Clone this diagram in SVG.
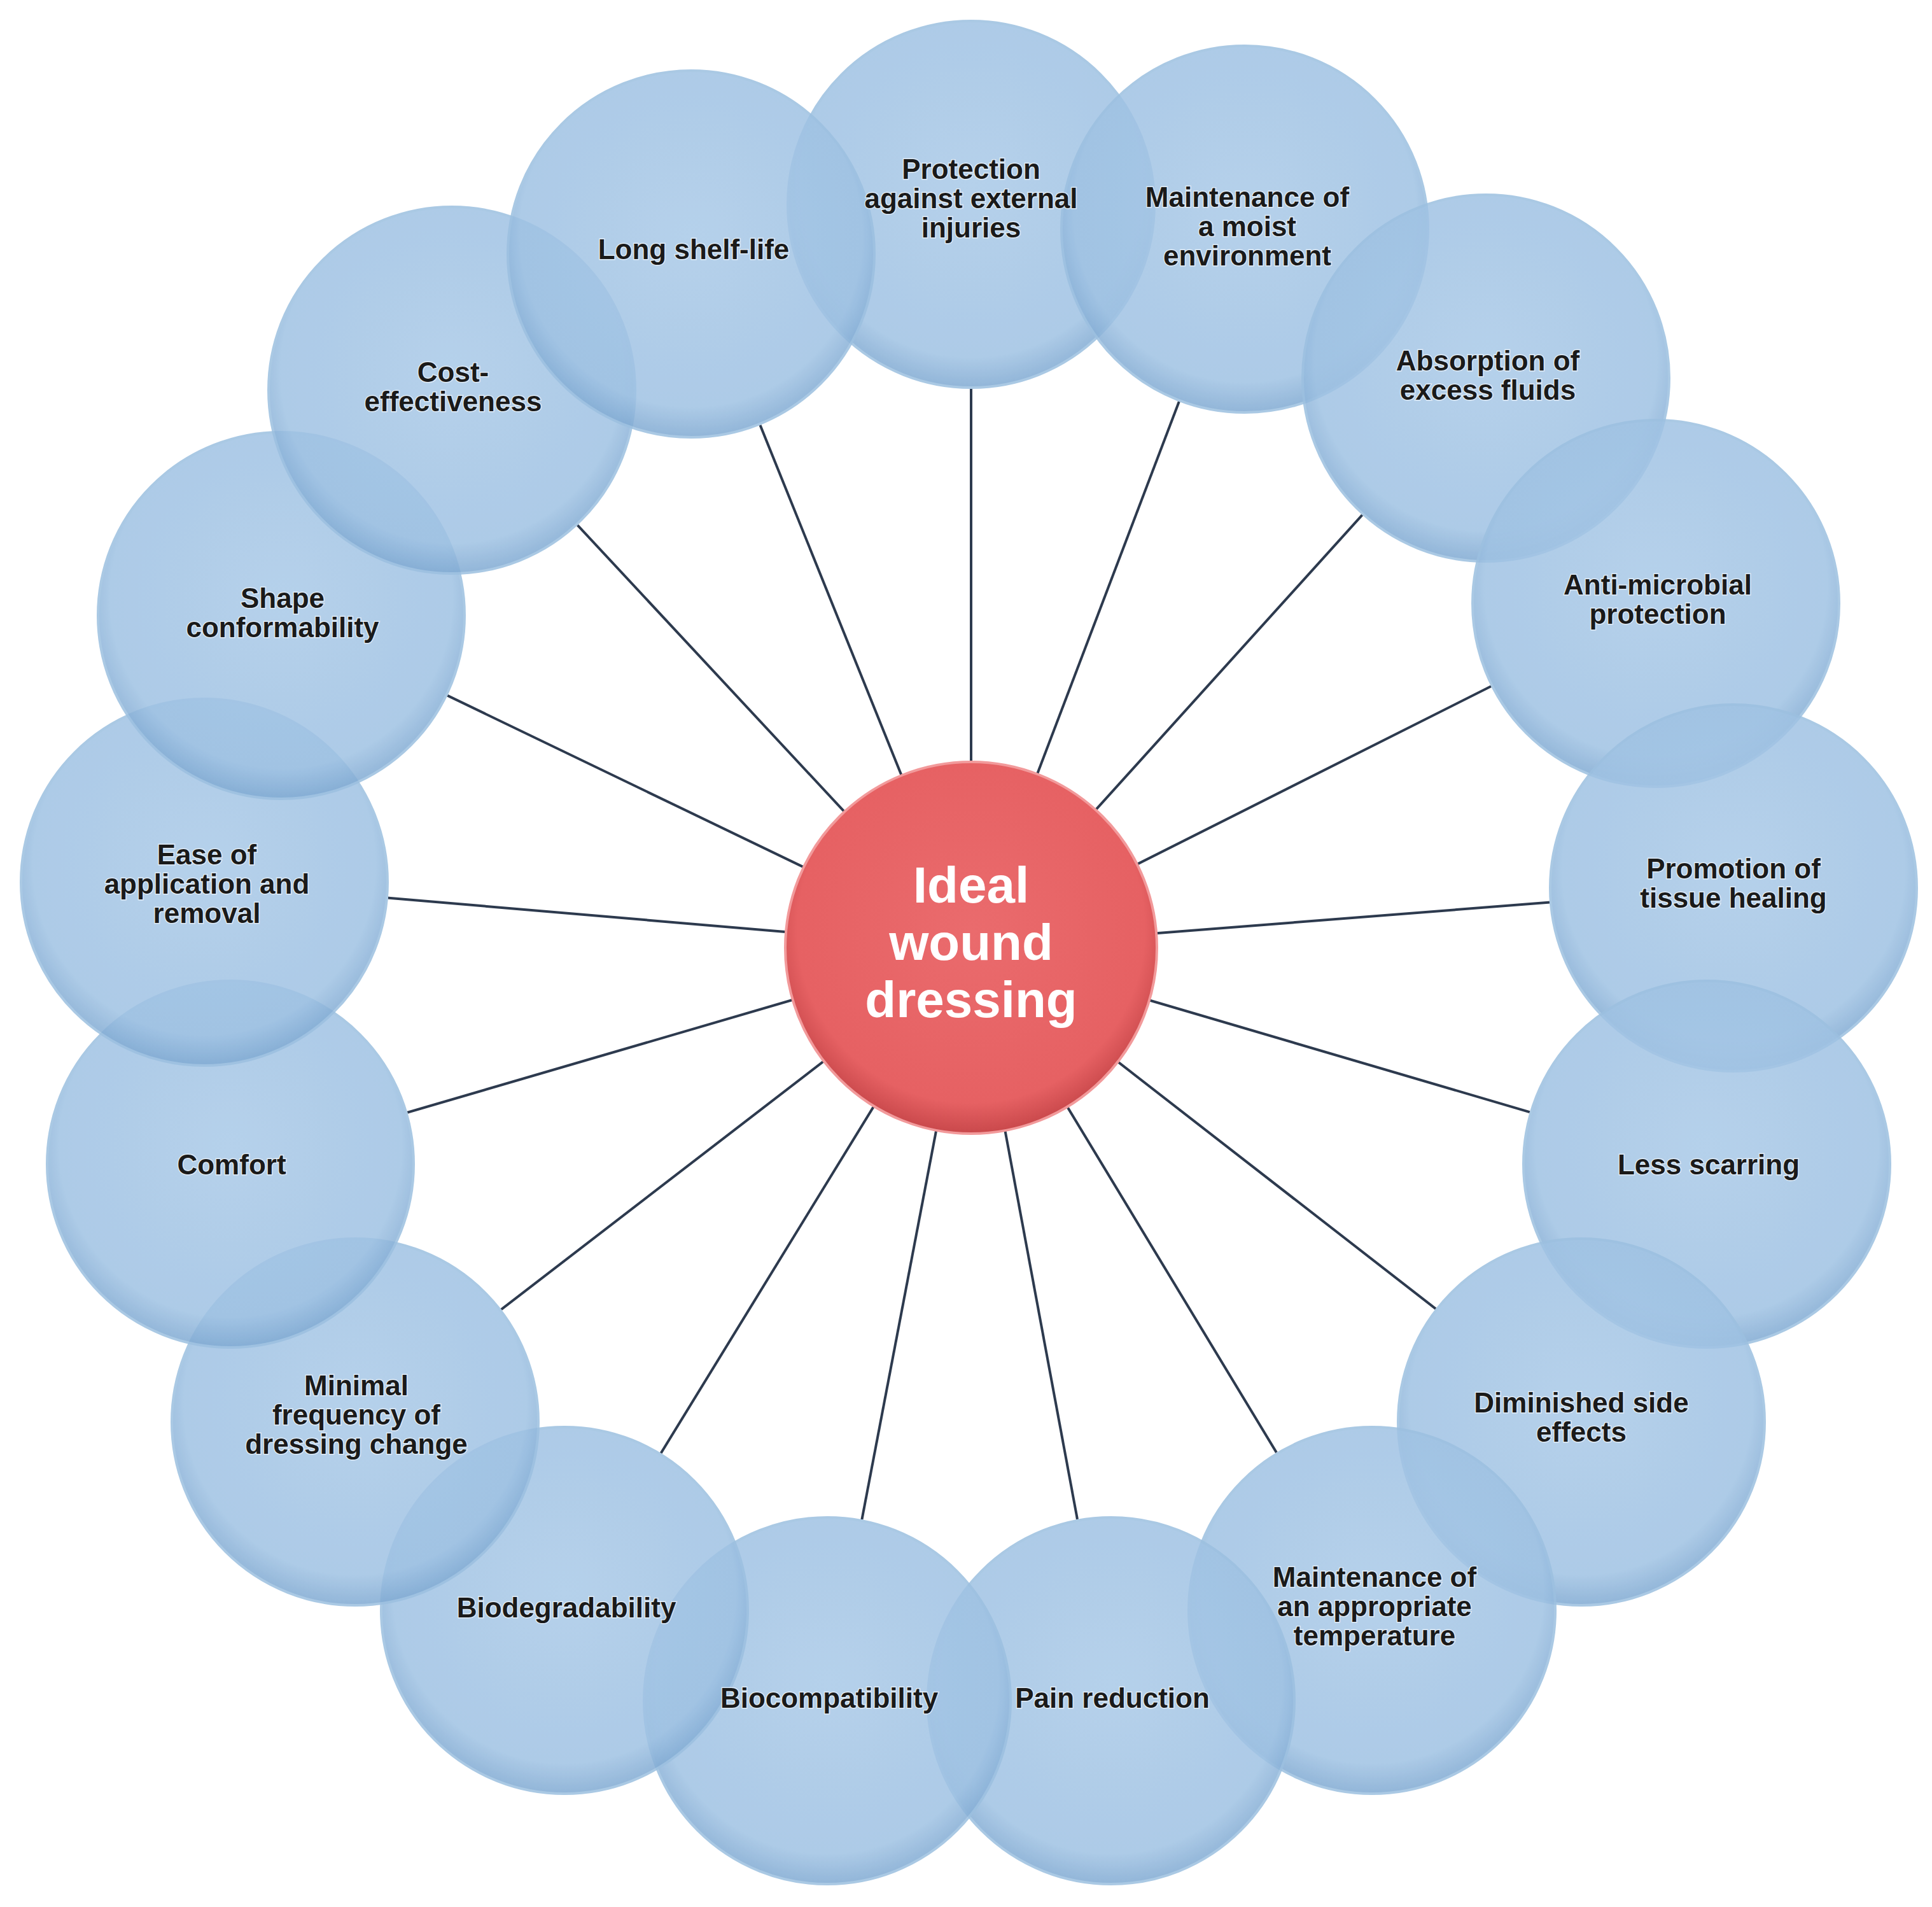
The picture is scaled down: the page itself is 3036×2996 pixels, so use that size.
<svg xmlns="http://www.w3.org/2000/svg" width="3036" height="2996" viewBox="0 0 3036 2996">
<style>
.c{fill:url(#bg);stroke:#9cc0e0;stroke-width:4;opacity:0.85}
.w{fill:#fff}
.t{font-family:"Liberation Sans",Arial,sans-serif;font-weight:bold;font-size:44px;fill:#1a1a1a;text-anchor:middle;stroke:#ffffff;stroke-width:3;paint-order:stroke;stroke-opacity:0.6}
.l{stroke:#2d3a4e;stroke-width:4}
</style>
<defs>
<radialGradient id="bg" cx="0.5" cy="0.45" r="0.55">
<stop offset="0" stop-color="#a9c9e8"/><stop offset="0.85" stop-color="#9fc2e3"/><stop offset="1" stop-color="#7fa9d2"/>
</radialGradient>
<radialGradient id="rg" cx="0.5" cy="0.45" r="0.55">
<stop offset="0" stop-color="#ea6b6d"/><stop offset="0.85" stop-color="#e66163"/><stop offset="1" stop-color="#c9484b"/>
</radialGradient>
</defs>
<rect width="3036" height="2996" fill="#fff"/>
<g id="connectors">
<line class="l" x1="1526" y1="1489" x2="1526" y2="321"/>
<line class="l" x1="1526" y1="1489" x2="1956" y2="360"/>
<line class="l" x1="1526" y1="1489" x2="2335" y2="594"/>
<line class="l" x1="1526" y1="1489" x2="2602" y2="948"/>
<line class="l" x1="1526" y1="1489" x2="2724" y2="1395"/>
<line class="l" x1="1526" y1="1489" x2="2682" y2="1829"/>
<line class="l" x1="1526" y1="1489" x2="2485" y2="2234"/>
<line class="l" x1="1526" y1="1489" x2="2156" y2="2530"/>
<line class="l" x1="1526" y1="1489" x2="1746" y2="2672"/>
<line class="l" x1="1526" y1="1489" x2="1300" y2="2672"/>
<line class="l" x1="1526" y1="1489" x2="887" y2="2530"/>
<line class="l" x1="1526" y1="1489" x2="558" y2="2234"/>
<line class="l" x1="1526" y1="1489" x2="362" y2="1829"/>
<line class="l" x1="1526" y1="1489" x2="321" y2="1386"/>
<line class="l" x1="1526" y1="1489" x2="442" y2="967"/>
<line class="l" x1="1526" y1="1489" x2="710" y2="613"/>
<line class="l" x1="1526" y1="1489" x2="1086" y2="399"/>
</g>
<g id="backing">
<circle class="w" cx="1526" cy="321" r="290"/><circle class="w" cx="1956" cy="360" r="290"/><circle class="w" cx="2335" cy="594" r="290"/><circle class="w" cx="2602" cy="948" r="290"/><circle class="w" cx="2724" cy="1395" r="290"/><circle class="w" cx="2682" cy="1829" r="290"/><circle class="w" cx="2485" cy="2234" r="290"/><circle class="w" cx="2156" cy="2530" r="290"/><circle class="w" cx="1746" cy="2672" r="290"/><circle class="w" cx="1300" cy="2672" r="290"/><circle class="w" cx="887" cy="2530" r="290"/><circle class="w" cx="558" cy="2234" r="290"/><circle class="w" cx="362" cy="1829" r="290"/><circle class="w" cx="321" cy="1386" r="290"/><circle class="w" cx="442" cy="967" r="290"/><circle class="w" cx="710" cy="613" r="290"/><circle class="w" cx="1086" cy="399" r="290"/>
</g>
<g id="n1"><circle class="c" cx="1526" cy="321" r="288"/></g>
<g id="n2"><circle class="c" cx="1956" cy="360" r="288"/></g>
<g id="n3"><circle class="c" cx="2335" cy="594" r="288"/></g>
<g id="n4"><circle class="c" cx="2602" cy="948" r="288"/></g>
<g id="n5"><circle class="c" cx="2724" cy="1395" r="288"/></g>
<g id="n6"><circle class="c" cx="2682" cy="1829" r="288"/></g>
<g id="n7"><circle class="c" cx="2485" cy="2234" r="288"/></g>
<g id="n8"><circle class="c" cx="2156" cy="2530" r="288"/></g>
<g id="n9"><circle class="c" cx="1746" cy="2672" r="288"/></g>
<g id="n10"><circle class="c" cx="1300" cy="2672" r="288"/></g>
<g id="n11"><circle class="c" cx="887" cy="2530" r="288"/></g>
<g id="n12"><circle class="c" cx="558" cy="2234" r="288"/></g>
<g id="n13"><circle class="c" cx="362" cy="1829" r="288"/></g>
<g id="n14"><circle class="c" cx="321" cy="1386" r="288"/></g>
<g id="n15"><circle class="c" cx="442" cy="967" r="288"/></g>
<g id="n16"><circle class="c" cx="710" cy="613" r="288"/></g>
<g id="n17"><circle class="c" cx="1086" cy="399" r="288"/></g>
<g id="center"><circle cx="1526" cy="1489" r="292" fill="url(#rg)" stroke="#f29a9b" stroke-width="4"/>
<text font-family="Liberation Sans,Arial,sans-serif" font-weight="bold" font-size="80" fill="#fff" text-anchor="middle"><tspan x="1526" y="1418">Ideal</tspan><tspan x="1526" y="1508">wound</tspan><tspan x="1526" y="1598">dressing</tspan></text></g>
<g id="labels">
<text class="t"><tspan x="1526" y="281">Protection</tspan><tspan x="1526" y="327">against external</tspan><tspan x="1526" y="373">injuries</tspan></text>
<text class="t"><tspan x="1960" y="325">Maintenance of</tspan><tspan x="1960" y="371">a moist</tspan><tspan x="1960" y="417">environment</tspan></text>
<text class="t"><tspan x="2338" y="582">Absorption of</tspan><tspan x="2338" y="628">excess fluids</tspan></text>
<text class="t"><tspan x="2605" y="934">Anti-microbial</tspan><tspan x="2605" y="980">protection</tspan></text>
<text class="t"><tspan x="2724" y="1380">Promotion of</tspan><tspan x="2724" y="1426">tissue healing</tspan></text>
<text class="t"><tspan x="2685" y="1845">Less scarring</tspan></text>
<text class="t"><tspan x="2485" y="2219">Diminished side</tspan><tspan x="2485" y="2265">effects</tspan></text>
<text class="t"><tspan x="2160" y="2493">Maintenance of</tspan><tspan x="2160" y="2539">an appropriate</tspan><tspan x="2160" y="2585">temperature</tspan></text>
<text class="t"><tspan x="1748" y="2683">Pain reduction</tspan></text>
<text class="t"><tspan x="1303" y="2683">Biocompatibility</tspan></text>
<text class="t"><tspan x="890" y="2541">Biodegradability</tspan></text>
<text class="t"><tspan x="560" y="2192">Minimal</tspan><tspan x="560" y="2238">frequency of</tspan><tspan x="560" y="2284">dressing change</tspan></text>
<text class="t"><tspan x="364" y="1845">Comfort</tspan></text>
<text class="t"><tspan x="325" y="1358">Ease of</tspan><tspan x="325" y="1404">application and</tspan><tspan x="325" y="1450">removal</tspan></text>
<text class="t"><tspan x="444" y="955">Shape</tspan><tspan x="444" y="1001">conformability</tspan></text>
<text class="t"><tspan x="712" y="600">Cost-</tspan><tspan x="712" y="646">effectiveness</tspan></text>
<text class="t"><tspan x="1090" y="407">Long shelf-life</tspan></text>
</g>
</svg>
